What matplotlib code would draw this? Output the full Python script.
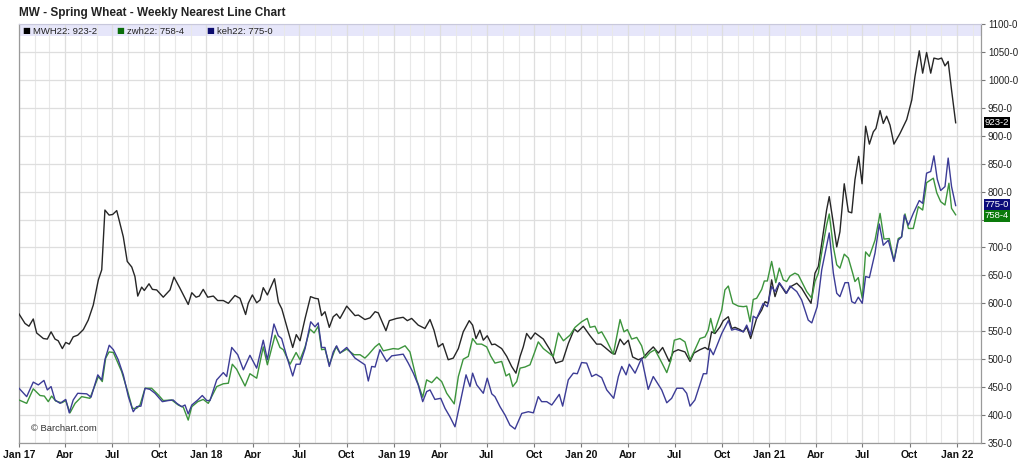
import matplotlib
matplotlib.use('Agg')
import matplotlib.pyplot as plt
import matplotlib.dates as mdates
import matplotlib.transforms as mtransforms
from matplotlib.ticker import FuncFormatter
import numpy as np
import pandas as pd

# ---------------- data (time in years since 1 Jan 2017, prices in cents) ----------------
mw_years = [0.000, 0.032, 0.053, 0.076, 0.094, 0.130, 0.151, 0.171, 0.192, 0.209, 0.231, 0.249,
            0.268, 0.289, 0.313, 0.343, 0.369, 0.396, 0.423, 0.441, 0.458, 0.480, 0.499, 0.521,
            0.556, 0.577, 0.601, 0.618, 0.633, 0.654, 0.668, 0.693, 0.711, 0.734, 0.769, 0.805,
            0.826, 0.858, 0.902, 0.921, 0.944, 0.961, 0.982, 1.006, 1.036, 1.059, 1.089, 1.116,
            1.151, 1.178, 1.208, 1.222, 1.244, 1.267, 1.285, 1.302, 1.324, 1.362, 1.383, 1.401,
            1.459, 1.478, 1.498, 1.525, 1.554, 1.578, 1.595, 1.613, 1.631, 1.654, 1.675, 1.693,
            1.711, 1.747, 1.791, 1.809, 1.844, 1.871, 1.898, 1.915, 1.939, 1.956, 1.974, 2.013,
            2.048, 2.070, 2.093, 2.128, 2.164, 2.191, 2.212, 2.235, 2.259, 2.288, 2.315, 2.342,
            2.368, 2.400, 2.418, 2.436, 2.457, 2.475, 2.496, 2.520, 2.537, 2.573, 2.600, 2.626,
            2.649, 2.671, 2.688, 2.706, 2.728, 2.751, 2.795, 2.830, 2.861, 2.898, 2.928, 2.960,
            2.978, 3.008, 3.044, 3.079, 3.102, 3.124, 3.159, 3.177, 3.204, 3.225, 3.248, 3.271,
            3.301, 3.325, 3.354, 3.381, 3.408, 3.431, 3.466, 3.488, 3.514, 3.550, 3.577, 3.598,
            3.630, 3.657, 3.674, 3.692, 3.710, 3.737, 3.754, 3.781, 3.799, 3.817, 3.843, 3.861,
            3.879, 3.900, 3.932, 3.959, 3.977, 3.994, 4.012, 4.030, 4.053, 4.088, 4.114, 4.146,
            4.172, 4.199, 4.222, 4.243, 4.261, 4.287, 4.305, 4.319, 4.337, 4.359, 4.376, 4.399,
            4.421, 4.439, 4.456, 4.476, 4.494, 4.513, 4.533, 4.554, 4.568, 4.590, 4.607, 4.625,
            4.643, 4.664, 4.696, 4.732, 4.759, 4.776, 4.799, 4.817, 4.838, 4.860, 4.877, 4.900,
            4.918, 4.936, 4.953, 4.971, 4.993]
mw_values = [581, 564, 559, 572, 547, 537, 536, 549, 536, 533, 519, 530,
             527, 540, 543, 553, 570, 597, 642, 660, 767, 758, 759, 766,
             719, 675, 665, 648, 613, 629, 623, 635, 625, 624, 611, 624,
             647, 627, 598, 619, 611, 613, 625, 611, 613, 605, 605, 600,
             614, 609, 580, 600, 615, 601, 606, 628, 615, 644, 602, 590,
             521, 544, 533, 573, 612, 609, 608, 578, 585, 557, 576, 581,
             573, 595, 578, 579, 571, 574, 585, 583, 564, 551, 569, 573,
             575, 569, 573, 561, 555, 571, 552, 522, 528, 499, 502, 519,
             549, 569, 561, 537, 552, 534, 542, 526, 527, 519, 505, 487,
             475, 505, 522, 546, 536, 547, 536, 517, 493, 497, 528, 554,
             549, 559, 542, 527, 527, 521, 511, 509, 536, 526, 534, 504,
             499, 502, 513, 522, 511, 521, 496, 513, 517, 513, 496, 511,
             517, 521, 517, 549, 546, 558, 569, 576, 555, 557, 553, 549,
             558, 537, 573, 588, 603, 600, 642, 612, 636, 618, 630, 636,
             627, 612, 600, 654, 666, 725, 767, 791, 752, 701, 728, 814,
             764, 762, 821, 863, 814, 917, 885, 907, 913, 945, 922, 935,
             919, 885, 904, 929, 964, 1006, 1052, 1012, 1049, 1012, 1039, 1037,
             1039, 1025, 1033, 982, 923.25]

zw_years = [0.000, 0.041, 0.076, 0.112, 0.135, 0.156, 0.174, 0.196, 0.228, 0.249, 0.272, 0.299,
            0.334, 0.378, 0.423, 0.444, 0.462, 0.480, 0.503, 0.547, 0.583, 0.604, 0.627, 0.645,
            0.672, 0.707, 0.743, 0.769, 0.814, 0.849, 0.876, 0.902, 0.921, 0.953, 0.982, 1.009,
            1.054, 1.089, 1.116, 1.137, 1.160, 1.205, 1.231, 1.267, 1.302, 1.324, 1.365, 1.391,
            1.409, 1.445, 1.477, 1.498, 1.525, 1.551, 1.573, 1.595, 1.613, 1.631, 1.654, 1.690,
            1.711, 1.747, 1.786, 1.818, 1.844, 1.862, 1.898, 1.920, 1.942, 1.995, 2.022, 2.058,
            2.084, 2.120, 2.152, 2.173, 2.200, 2.227, 2.253, 2.280, 2.320, 2.342, 2.368, 2.395,
            2.418, 2.440, 2.466, 2.493, 2.514, 2.537, 2.573, 2.596, 2.614, 2.632, 2.653, 2.671,
            2.697, 2.724, 2.747, 2.768, 2.795, 2.848, 2.875, 2.902, 2.937, 2.964, 2.999, 3.029,
            3.044, 3.070, 3.088, 3.106, 3.133, 3.168, 3.204, 3.225, 3.243, 3.266, 3.293, 3.319,
            3.337, 3.364, 3.390, 3.426, 3.453, 3.476, 3.493, 3.523, 3.550, 3.577, 3.603, 3.630,
            3.657, 3.674, 3.687, 3.705, 3.746, 3.763, 3.781, 3.805, 3.835, 3.861, 3.879, 3.897,
            3.914, 3.932, 3.959, 3.973, 3.989, 4.012, 4.034, 4.053, 4.074, 4.092, 4.110, 4.136,
            4.154, 4.172, 4.199, 4.226, 4.243, 4.261, 4.284, 4.305, 4.319, 4.341, 4.359, 4.376,
            4.399, 4.421, 4.444, 4.456, 4.474, 4.495, 4.513, 4.533, 4.563, 4.590, 4.611, 4.639,
            4.664, 4.687, 4.705, 4.723, 4.741, 4.767, 4.794, 4.817, 4.838, 4.874, 4.892, 4.913,
            4.936, 4.957, 4.971, 4.993]
zw_values = [427, 421, 447, 435, 434, 424, 434, 425, 422, 426, 404, 421,
             433, 430, 469, 460, 502, 513, 512, 478, 438, 412, 412, 418,
             448, 448, 436, 426, 427, 418, 414, 391, 415, 424, 428, 421,
             451, 456, 457, 491, 482, 452, 474, 466, 522, 490, 543, 521,
             517, 491, 512, 499, 522, 554, 547, 559, 517, 518, 490, 522,
             511, 518, 508, 508, 502, 508, 522, 528, 515, 519, 518, 524,
             513, 463, 432, 463, 458, 468, 460, 439, 420, 469, 500, 505,
             537, 527, 527, 522, 506, 493, 496, 470, 474, 451, 460, 484,
             486, 490, 511, 531, 519, 505, 547, 533, 543, 557, 567, 573,
             557, 559, 546, 549, 533, 509, 571, 549, 553, 536, 539, 524,
             502, 512, 517, 494, 476, 499, 534, 537, 531, 499, 517, 537,
             540, 552, 573, 547, 588, 624, 631, 600, 595, 594, 595, 567,
             607, 609, 625, 640, 640, 675, 637, 663, 642, 639, 649, 654,
             651, 639, 621, 609, 639, 654, 701, 740, 760, 701, 669, 663,
             688, 681, 654, 639, 646, 609, 692, 684, 713, 761, 715, 716,
             676, 716, 719, 760, 734, 734, 773, 767, 816, 824, 798, 782,
             776, 815, 770, 758.5]

ke_years = [0.000, 0.041, 0.076, 0.103, 0.133, 0.151, 0.171, 0.192, 0.219, 0.249, 0.268, 0.289,
            0.313, 0.361, 0.384, 0.420, 0.441, 0.458, 0.481, 0.503, 0.529, 0.556, 0.583, 0.609,
            0.627, 0.650, 0.672, 0.698, 0.725, 0.764, 0.796, 0.822, 0.841, 0.867, 0.885, 0.902,
            0.921, 0.953, 0.977, 1.001, 1.018, 1.054, 1.089, 1.107, 1.134, 1.166, 1.196, 1.231,
            1.267, 1.302, 1.324, 1.359, 1.382, 1.400, 1.427, 1.459, 1.477, 1.498, 1.525, 1.555,
            1.578, 1.595, 1.613, 1.631, 1.654, 1.675, 1.693, 1.711, 1.747, 1.791, 1.818, 1.844,
            1.862, 1.880, 1.898, 1.924, 1.960, 1.987, 2.048, 2.075, 2.102, 2.128, 2.152, 2.173,
            2.191, 2.217, 2.248, 2.271, 2.297, 2.324, 2.351, 2.383, 2.404, 2.418, 2.440, 2.475,
            2.496, 2.520, 2.537, 2.564, 2.591, 2.617, 2.644, 2.680, 2.715, 2.742, 2.768, 2.786,
            2.813, 2.840, 2.880, 2.898, 2.928, 2.955, 2.976, 2.999, 3.026, 3.053, 3.076, 3.106,
            3.133, 3.170, 3.195, 3.213, 3.236, 3.253, 3.284, 3.319, 3.354, 3.381, 3.426, 3.453,
            3.479, 3.506, 3.538, 3.559, 3.577, 3.603, 3.648, 3.666, 3.683, 3.701, 3.746, 3.781,
            3.799, 3.817, 3.861, 3.879, 3.900, 3.914, 3.932, 3.967, 3.989, 4.012, 4.030, 4.053,
            4.092, 4.110, 4.146, 4.172, 4.207, 4.226, 4.255, 4.279, 4.319, 4.341, 4.359, 4.376,
            4.403, 4.421, 4.439, 4.456, 4.474, 4.495, 4.513, 4.533, 4.563, 4.586, 4.607, 4.634,
            4.664, 4.687, 4.705, 4.719, 4.741, 4.767, 4.799, 4.817, 4.838, 4.860, 4.877, 4.895,
            4.913, 4.936, 4.953, 4.971, 4.993]
ke_values = [448, 433, 459, 454, 462, 445, 451, 427, 421, 428, 404, 427,
             439, 438, 432, 472, 463, 499, 525, 517, 499, 472, 433, 406,
             415, 416, 448, 446, 439, 424, 426, 427, 421, 415, 418, 402,
             418, 427, 435, 426, 426, 463, 476, 469, 521, 508, 481, 507,
             484, 534, 499, 563, 542, 537, 505, 470, 491, 491, 519, 567,
             558, 565, 521, 521, 487, 513, 524, 511, 521, 502, 496, 490,
             461, 487, 486, 517, 496, 506, 509, 493, 475, 454, 424, 442,
             445, 428, 430, 412, 397, 379, 421, 472, 451, 475, 454, 439,
             466, 438, 433, 415, 400, 382, 375, 403, 406, 404, 433, 424,
             424, 418, 437, 416, 463, 475, 474, 494, 493, 469, 473, 467,
             445, 430, 469, 487, 472, 491, 475, 502, 446, 469, 445, 422,
             430, 448, 448, 439, 416, 427, 474, 474, 519, 508, 546, 569,
             552, 554, 549, 561, 543, 577, 573, 600, 594, 630, 621, 637,
             618, 631, 621, 606, 570, 565, 594, 660, 726, 654, 618, 612,
             637, 637, 603, 600, 611, 600, 648, 646, 690, 742, 704, 713,
             675, 713, 719, 758, 740, 761, 784, 779, 833, 836, 864, 822,
             802, 809, 860, 809, 775]

y_ticks = list(range(350, 1101, 50))
# the 750 label is hidden behind the last-price tags in the original
y_tick_labels = [f"{v}-0" if v != 750 else "" for v in y_ticks]
legend_labels = ["MWH22: 923-2", "zwh22: 758-4", "keh22: 775-0"]
last_labels = ["923-2", "758-4", "775-0"]
title_text = "MW - Spring Wheat - Weekly Nearest Line Chart"

# ---------------- helpers ----------------
START = pd.Timestamp('2017-01-01')


def to_dates(years):
    return START + pd.to_timedelta(np.asarray(years, dtype=float) * 365.25, unit='D')


C_MW, C_ZW, C_KE = '#262626', '#3c943c', '#3c3c96'
TAG_MW, TAG_ZW, TAG_KE = '#000000', '#0a7a0a', '#0c0c7a'
FONT = ['Liberation Sans', 'DejaVu Sans']

fig = plt.figure(figsize=(10.22, 4.58), dpi=100)
fig.patch.set_facecolor('white')
ax = fig.add_axes([19 / 1022, 1 - 443 / 458, (981 - 19) / 1022, (443 - 24) / 458])

ax.plot(to_dates(mw_years), mw_values, color=C_MW, lw=1.0, zorder=3)
ax.plot(to_dates(zw_years), zw_values, color=C_ZW, lw=1.0, zorder=3)
ax.plot(to_dates(ke_years), ke_values, color=C_KE, lw=1.0, zorder=3)

ax.set_ylim(350, 1100)
ax.set_xlim(START, START + pd.Timedelta(days=5.128 * 365.25))

# lavender legend band
ax.axhspan(1078, 1100, color='#e6e6fa', zorder=0, lw=0)

# grid and ticks
ax.set_axisbelow(True)
ax.xaxis.set_major_locator(mdates.MonthLocator(bymonth=[1, 4, 7, 10]))
ax.xaxis.set_minor_locator(mdates.MonthLocator())


def xfmt(v, pos=None):
    d = mdates.num2date(v)
    if d.month == 1:
        return d.strftime('Jan %y')
    return d.strftime('%b')


ax.xaxis.set_major_formatter(FuncFormatter(xfmt))
ax.set_yticks(y_ticks)
ax.set_yticklabels(y_tick_labels)
ax.grid(True, which='major', axis='both', color='#dedede', lw=0.9)
ax.grid(True, which='minor', axis='x', color='#e8e8e8', lw=0.8)

ax.yaxis.tick_right()
ax.tick_params(axis='y', which='major', direction='out', length=3, width=0.8, color='#777777',
               labelsize=7, labelcolor='#222222', pad=2)
ax.tick_params(axis='x', which='major', direction='out', length=3, width=0.8, color='#777777',
               labelsize=7.5, labelcolor='#111111', pad=2)
ax.tick_params(axis='x', which='minor', length=0)
for lab in ax.get_xticklabels():
    lab.set_fontweight('bold')
    lab.set_fontfamily(FONT)
for lab in ax.get_yticklabels():
    lab.set_fontfamily(FONT)

for side in ['left', 'right', 'bottom']:
    ax.spines[side].set_color('#9a9a9a')
    ax.spines[side].set_linewidth(0.9)
ax.spines['top'].set_color('#c8c8dc')
ax.spines['top'].set_linewidth(0.8)

# title
fig.text(19 / 1022, 1 - 13 / 458, title_text, fontsize=8.5, fontweight='bold', color='#222222',
         ha='left', va='center', family=FONT)

# legend inside band
leg_x = [22, 116, 206]
leg_cols = [TAG_MW, '#0a6e0a', '#0c0c6e']
for xx, col, lab in zip(leg_x, leg_cols, legend_labels):
    fig.text(xx / 1022, 1 - 31 / 458, '\u25A0', fontsize=6, color=col, ha='left', va='center',
             family=['DejaVu Sans'])
    fig.text((xx + 11) / 1022, 1 - 31 / 458, lab, fontsize=6.8, color='#222222', ha='left',
             va='center', family=FONT)

# copyright
ax.text(0.012, 0.035, '\u00A9 Barchart.com', transform=ax.transAxes, fontsize=6.8,
        color='#333333', ha='left', va='center', family=FONT)

# last price tags
trans = mtransforms.blended_transform_factory(ax.transAxes, ax.transData)
tag_y = [mw_values[-1], zw_values[-1] - 2, ke_values[-1] + 2]
tag_c = [TAG_MW, TAG_ZW, TAG_KE]
for yv, lab, col in zip(tag_y, last_labels, tag_c):
    ax.text(1.004, yv, lab, transform=trans, fontsize=6.8, color='white', ha='left', va='center',
            family=FONT, zorder=6, clip_on=False,
            bbox=dict(boxstyle='square,pad=0.12', fc=col, ec='none'))

fig.savefig('out.png', dpi=100, facecolor='white')
